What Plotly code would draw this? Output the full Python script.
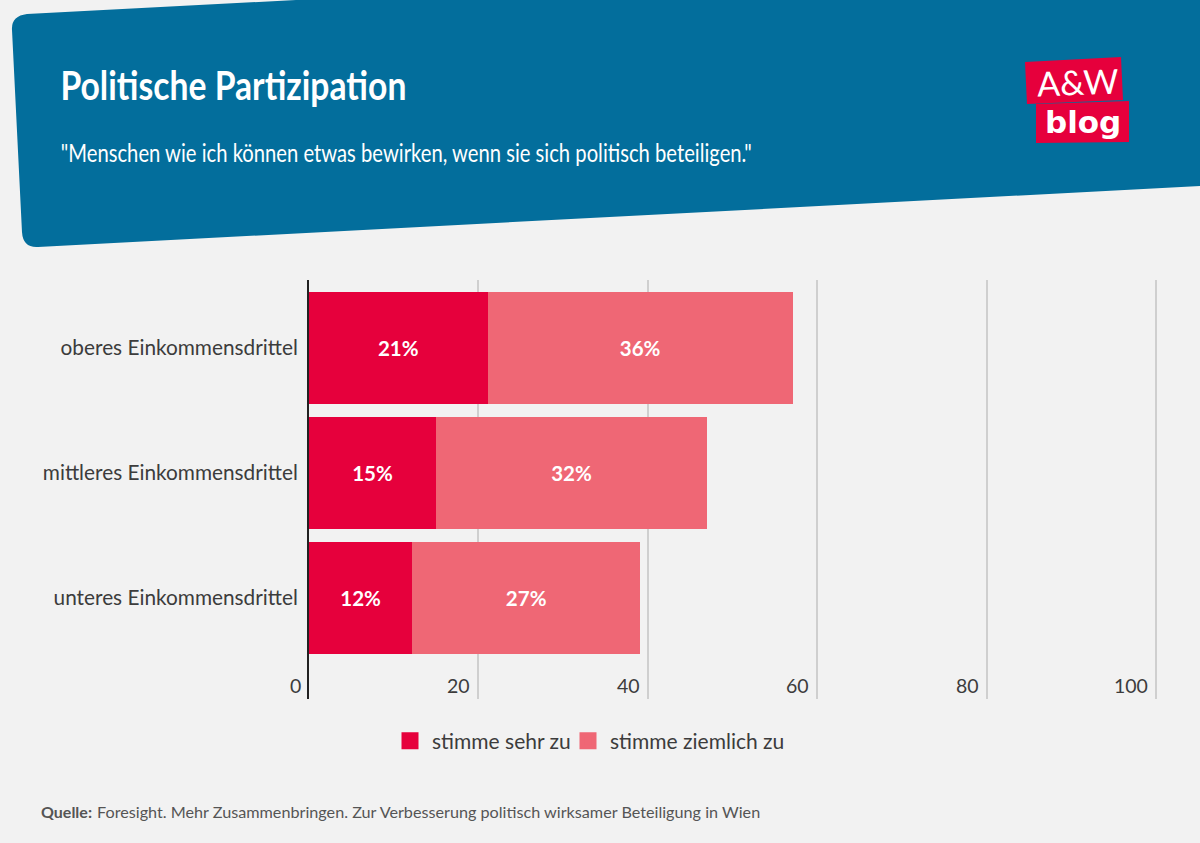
import plotly.graph_objects as go

categories = ["oberes Einkommensdrittel", "mittleres Einkommensdrittel", "unteres Einkommensdrittel"]
sehr_zu = [21.1, 15.0, 12.2]
ziemlich_zu = [36.0, 32.0, 26.9]
series_names = ["stimme sehr zu", "stimme ziemlich zu"]
x_ticks = [0, 20, 40, 60, 80, 100]
title = "Politische Partizipation"
subtitle = '"Menschen wie ich können etwas bewirken, wenn sie sich politisch beteiligen."'
source_bold = "Quelle:"
source_text = "Foresight. Mehr Zusammenbringen. Zur Verbesserung politisch wirksamer Beteiligung in Wien"

W, H = 1200, 843
BG = "#f2f2f2"; BLUE = "#036e9c"; RED = "#e6003c"; PINK = "#ef6775"; TXT = "#3c3c3c"
BODY = "Lato"

def px(x, y):
    return f"{x/W:.5f},{1-y/H:.5f}"

fig = go.Figure()
for name, vals, col in [(series_names[0], sehr_zu, RED), (series_names[1], ziemlich_zu, PINK)]:
    fig.add_trace(go.Bar(
        y=categories, x=vals, name=name, orientation="h", width=0.896, showlegend=False,
        marker=dict(color=col, line_width=0),
        texttemplate="%{x:.0f}%", textposition="inside", insidetextanchor="middle", textangle=0,
        textfont=dict(family=BODY, size=20.5, color="white", weight="bold"),
        cliponaxis=False, hoverinfo="skip"))
for name, col, lg in [(series_names[0], RED, "legend"), (series_names[1], PINK, "legend2")]:
    fig.add_trace(go.Bar(y=[None], x=[None], name=name, orientation="h", legend=lg, showlegend=True,
                         marker=dict(color=col, line=dict(color=col, width=5))))

header = ("M " + px(12, 30) + " Q " + px(11, 16) + " " + px(27, 14) + " L " + px(296, 0) + " L " + px(1200, 0)
          + " L " + px(1200, 186) + " L " + px(38, 247) + " Q " + px(23, 248) + " " + px(22, 232) + " Z")
logo1 = "M " + px(1025, 62) + " L " + px(1121, 57) + " L " + px(1123, 100) + " L " + px(1027, 104) + " Z"
logo2 = "M " + px(1036, 104) + " L " + px(1129, 101) + " L " + px(1129, 142) + " L " + px(1036, 143) + " Z"
shapes = [dict(type="path", path=p, xref="paper", yref="paper", fillcolor=c, line_width=0, layer="below")
          for p, c in [(header, BLUE), (logo1, RED), (logo2, RED)]]

def note(x, y, text, size, color, family=BODY, bold=False, anchor="left", angle=0):
    return dict(x=x/W, y=1-y/H, xref="paper", yref="paper", text=text, showarrow=False, xanchor=anchor,
                yanchor="middle", textangle=angle,
                font=dict(family=family, size=size, color=color, weight="bold" if bold else "normal"))

annotations = [
    note(233.5, 85, title, 40, "white", BODY, True, "center"),
    note(406.5, 151.5, subtitle, 25, "white", BODY, False, "center"),
    note(1077, 81, "A&amp;W", 34, "white", BODY, False, "center", -2),
    note(1083, 122, "blog", 31, "white", "DejaVu Sans", True, "center"),
    note(39, 811, source_bold, 16, "#555555", BODY, True),
    note(95, 811, source_text, 16.2, "#555555", BODY),
]
for t in x_ticks:
    annotations.append(dict(x=t, y=1-685/H, xref="x", yref="paper", text=str(t), showarrow=False,
                            xanchor="right", yanchor="middle", xshift=-6,
                            font=dict(family=BODY, size=19.5, color=TXT)))

legend_style = dict(orientation="h", yanchor="middle", xanchor="left", y=1-741/H, itemwidth=34,
                    font=dict(family=BODY, size=21, color=TXT), bgcolor="rgba(0,0,0,0)")

fig.update_layout(
    width=W, height=H, margin=dict(l=0, r=0, t=0, b=0), autosize=False,
    paper_bgcolor=BG, plot_bgcolor=BG, barmode="stack", bargap=0.1,
    font=dict(family=BODY, color=TXT),
    shapes=shapes, annotations=annotations,
    legend=dict(x=388/W, **legend_style),
    legend2=dict(x=566/W, **legend_style),
    xaxis=dict(domain=[309/W, 1160/W], range=[0, 100.47], tickvals=x_ticks, showticklabels=False,
               showgrid=True, gridcolor="#cfcfcf", gridwidth=1.5, zeroline=False, showline=False, ticks=""),
    yaxis=dict(domain=[1-699/H, 1-280/H], type="category", categoryorder="array", categoryarray=categories,
               range=[2.808, -0.544], showgrid=False, zeroline=False, showline=True, linecolor="#222222",
               linewidth=2, ticks="", ticklabelstandoff=5, tickfont=dict(family=BODY, size=20.8, color=TXT)),
)

# The page margin is removed, and the two heading lines are narrowed to the reference's condensed width.
post = """
document.documentElement.style.background = '#f2f2f2';
document.body.style.margin = '0';
document.querySelectorAll('.annotation-text').forEach(function (t) {
  var s = t.textContent;
  if (s.indexOf('Politische') === 0) { t.setAttribute('textLength', '346'); t.setAttribute('lengthAdjust', 'spacingAndGlyphs'); }
  if (s.indexOf('"Menschen') === 0) { t.setAttribute('textLength', '691'); t.setAttribute('lengthAdjust', 'spacingAndGlyphs'); }
});
"""
fig.write_html("out.html", post_script=post, config={"displayModeBar": False})
